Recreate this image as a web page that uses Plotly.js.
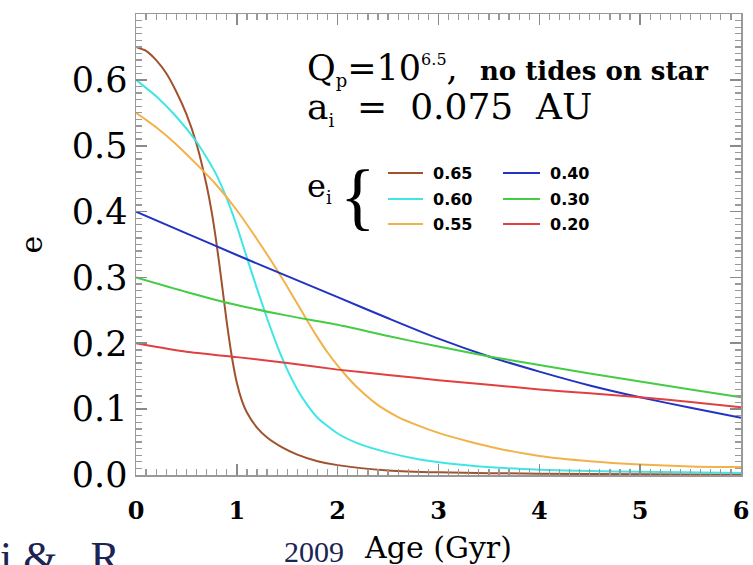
<!DOCTYPE html>
<html>
<head>
<meta charset="utf-8">
<script src="https://cdn.plot.ly/plotly-3.0.1.min.js"></script>
<style>html,body{margin:0;padding:0;background:#fff;}#chart{width:753px;height:565px;}</style>
</head>
<body>
<div id="chart"></div>
<script>
// ---- data ----
const seriesNames = ["0.65", "0.60", "0.55", "0.40", "0.30", "0.20"];
const seriesColors = ["#a0522d", "#40e6e6", "#f2b24a", "#2233c4", "#44cc44", "#e04040"];

const age065 = [0, 0.1, 0.2, 0.3, 0.4, 0.5, 0.6, 0.7, 0.75, 0.8, 0.85, 0.9, 0.95, 1.0, 1.05, 1.1, 1.2, 1.3, 1.45, 1.6, 1.8, 2.0, 2.5, 3.0, 4.0, 5.0, 6.0];
const ecc065 = [0.650, 0.644, 0.630, 0.610, 0.582, 0.548, 0.503, 0.440, 0.400, 0.350, 0.292, 0.232, 0.180, 0.140, 0.113, 0.095, 0.072, 0.057, 0.042, 0.031, 0.021, 0.015, 0.007, 0.004, 0.002, 0.001, 0.0005];

const age060 = [0, 0.2, 0.4, 0.6, 0.7, 0.8, 0.9, 1.0, 1.1, 1.2, 1.3, 1.4, 1.5, 1.6, 1.7, 1.8, 2.0, 2.2, 2.5, 2.8, 3.2, 3.6, 4.0, 4.5, 5.0, 6.0];
const ecc060 = [0.600, 0.575, 0.544, 0.506, 0.482, 0.455, 0.420, 0.378, 0.330, 0.283, 0.238, 0.196, 0.160, 0.130, 0.106, 0.087, 0.063, 0.048, 0.034, 0.024, 0.016, 0.011, 0.008, 0.006, 0.005, 0.003];

const age055 = [0, 0.2, 0.4, 0.6, 0.8, 1.0, 1.2, 1.4, 1.5, 1.6, 1.7, 1.8, 1.9, 2.0, 2.1, 2.2, 2.4, 2.6, 2.8, 3.0, 3.3, 3.6, 4.0, 4.5, 5.0, 5.5, 6.0];
const ecc055 = [0.550, 0.528, 0.502, 0.472, 0.440, 0.402, 0.358, 0.311, 0.286, 0.260, 0.234, 0.209, 0.186, 0.166, 0.148, 0.132, 0.106, 0.088, 0.075, 0.064, 0.051, 0.040, 0.029, 0.021, 0.016, 0.013, 0.012];

const ageLow = [0, 0.5, 1.0, 1.5, 2.0, 2.5, 3.0, 3.5, 4.0, 4.5, 5.0, 5.5, 6.0];
const ecc040 = [0.400, 0.367, 0.334, 0.302, 0.270, 0.238, 0.207, 0.180, 0.157, 0.136, 0.118, 0.102, 0.087];
const ecc030 = [0.300, 0.278, 0.258, 0.242, 0.228, 0.211, 0.195, 0.180, 0.167, 0.154, 0.142, 0.130, 0.118];
const ecc020 = [0.200, 0.187, 0.179, 0.170, 0.160, 0.152, 0.144, 0.137, 0.130, 0.124, 0.118, 0.111, 0.103];

const xTickVals = [0, 1, 2, 3, 4, 5, 6];
const yTickVals = [0.0, 0.1, 0.2, 0.3, 0.4, 0.5, 0.6, 0.7];

const ages = [age065, age060, age055, ageLow, ageLow, ageLow];
const eccs = [ecc065, ecc060, ecc055, ecc040, ecc030, ecc020];

const traces = seriesNames.map((n, i) => ({
  x: ages[i], y: eccs[i], type: "scatter", mode: "lines", name: n,
  line: {color: seriesColors[i], width: 2, shape: "spline", smoothing: 0.6},
  showlegend: false, hoverinfo: "skip"
}));

// plot-area geometry helpers (paper coordinates)
const L = 136, R = 741, T = 14, B = 475;
const px = v => (v - L) / (R - L);
const py = v => (B - v) / (B - T);

const serif = "DejaVu Serif";
const annotations = [
  {text: "Q<sub><span style=\"font-size:18px\">p</span></sub>=10<sup><span style=\"font-size:16px\">6.5</span></sup>,&nbsp;&nbsp;<span style=\"font-size:26px;font-weight:bold\">no tides on star</span>",
   x: px(305), y: py(70), font: {family: serif, size: 35, color: "#000"}},
  {text: "a<sub><span style=\"font-size:18px\">i</span></sub>&nbsp; = &nbsp;0.075&nbsp; AU",
   x: px(305), y: py(108), font: {family: serif, size: 36, color: "#000"}},
  {text: "e<sub><span style=\"font-size:18px\">i</span></sub>", x: px(305), y: py(188), font: {family: serif, size: 32, color: "#000"}},
  {text: "{", x: px(338), y: py(196), font: {family: "Liberation Serif", size: 74, color: "#000"}}
];
const rowsY = [173, 199, 224];
const shapes = [];
seriesNames.forEach((n, i) => {
  const col = i < 3 ? 0 : 1, row = i % 3;
  const x0 = col === 0 ? 388 : 503, x1 = col === 0 ? 423 : 540, tx = col === 0 ? 431 : 548;
  shapes.push({type: "line", xref: "paper", yref: "paper", x0: px(x0), x1: px(x1), y0: py(rowsY[row]), y1: py(rowsY[row]),
               line: {color: seriesColors[i], width: 2}});
  annotations.push({text: "<b>" + n + "</b>", x: px(tx), y: py(rowsY[row]),
                    font: {family: "DejaVu Sans", size: 16, color: "#000"}});
});
annotations.forEach(a => { a.xref = "paper"; a.yref = "paper"; a.xanchor = a.xanchor || "left"; a.yanchor = "middle"; a.showarrow = false; });

// fragments of the caption behind the figure
annotations.push({text: "i &amp;&nbsp;&nbsp;&nbsp;R", xref: "paper", yref: "paper", x: px(-2), y: py(531), xanchor: "left", yanchor: "top",
                  showarrow: false, font: {family: "Liberation Serif", size: 44, color: "#1c2454"}});
annotations.push({text: "2009", xref: "paper", yref: "paper", x: px(282), y: py(533), xanchor: "left", yanchor: "top",
                  showarrow: false, font: {family: "Liberation Serif", size: 30, color: "#1c2454"}});

const axisCommon = {
  showline: true, linecolor: "#999999", linewidth: 1.5, mirror: "allticks",
  ticks: "inside", ticklen: 11, tickwidth: 1.6, tickcolor: "#8a8a8a",
  showgrid: false, zeroline: false
};

const layout = {
  width: 753, height: 565,
  margin: {l: L, r: 753 - R, t: T, b: 565 - B},
  paper_bgcolor: "#fff", plot_bgcolor: "#fff",
  showlegend: false,
  xaxis: Object.assign({}, axisCommon, {
    range: [xTickVals[0], xTickVals[xTickVals.length - 1]],
    tickmode: "linear", tick0: xTickVals[0], dtick: xTickVals[1] - xTickVals[0],
    minor: {dtick: 0.1, ticks: "inside", ticklen: 6, tickwidth: 1.3, tickcolor: "#999999"},
    ticklabelstandoff: 14,
    tickfont: {family: serif, size: 24, color: "#000", weight: "bold"},
    title: {text: "Age (Gyr)", font: {family: serif, size: 30, color: "#000"}, standoff: 12}
  }),
  yaxis: Object.assign({}, axisCommon, {
    range: [yTickVals[0], yTickVals[yTickVals.length - 1]],
    tickmode: "linear", tick0: yTickVals[0], dtick: 0.1, tickformat: ".1f",
    minor: {dtick: 0.01, ticks: "inside", ticklen: 6, tickwidth: 1.3, tickcolor: "#999999"},
    tickfont: {family: serif, size: 35, color: "#000"},
    title: {text: "e", font: {family: serif, size: 30, color: "#000"}, standoff: 20}
  }),
  shapes: shapes,
  annotations: annotations
};

Plotly.newPlot("chart", traces, layout, {displayModeBar: false, staticPlot: true});
</script>
</body>
</html>
